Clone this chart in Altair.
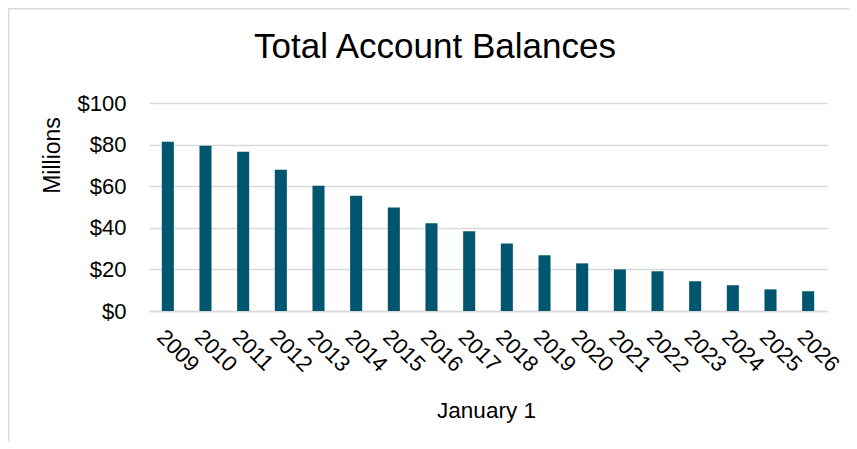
import altair as alt
import pandas as pd

years = [str(y) for y in range(2009, 2027)]
balances = [81.4, 79.5, 76.6, 67.9, 60.2, 55.4, 49.8, 42.2, 38.3,
            32.5, 26.8, 22.9, 20.0, 19.1, 14.3, 12.4, 10.4, 9.5]
y_ticks = [0, 20, 40, 60, 80, 100]
title_text = ["Total Account Balances"]

df = pd.DataFrame({"year": years, "balance": balances})

FONT = "Liberation Sans"
GRID = "#d9d9d9"
BAR = "#00566f"

W, H = 678, 208
PAD_L, PAD_T = 141, 95
PAD_R = 857 - 16 - PAD_L - W
PAD_B = 449 - 16 - PAD_T - H

bars = alt.Chart(df).mark_bar(color=BAR).encode(
    x=alt.X("year:N", sort=years,
            scale=alt.Scale(paddingInner=0.68, paddingOuter=0.34),
            axis=alt.Axis(title="January  1", labelAngle=45, labelAlign="left",
                          labelBaseline="top", labelPadding=15, ticks=False,
                          domainColor=GRID, domainWidth=1.5,
                          labelFont=FONT, labelFontSize=22, labelColor="#000",
                          titleFont=FONT, titleFontSize=22.5, titleFontWeight="normal",
                          titleColor="#000", titleY=99, titleBaseline="middle",
                          titleX=W / 2 - 2)),
    y=alt.Y("balance:Q", scale=alt.Scale(domain=[0, 100], nice=False),
            axis=alt.Axis(title="Millions", values=y_ticks, format="$.0f",
                          domain=False, ticks=False, gridColor=GRID, gridWidth=1.5,
                          labelPadding=23, labelFont=FONT, labelFontSize=22,
                          labelColor="#000",
                          titleFont=FONT, titleFontSize=23, titleFontWeight="normal",
                          titleColor="#000", titleX=-97, titleY=52,
                          titleBaseline="middle", titleAngle=-90)),
)

border = alt.Chart(pd.DataFrame({"a": [0]})).mark_rect(
    fill=None, stroke=GRID, strokeWidth=1.5
).encode(
    x=alt.value(-PAD_L + 0.75), x2=alt.value(W + PAD_R + 20),
    y=alt.value(-PAD_T + 0.75), y2=alt.value(H + PAD_B + 20),
)

title = alt.Chart(pd.DataFrame({"t": title_text})).mark_text(
    font=FONT, fontSize=35, color="#000", align="center", baseline="alphabetic"
).encode(
    text="t:N", x=alt.value(435 - 149), y=alt.value(58 - 103),
)

chart = alt.layer(border, bars, title).properties(
    width=W, height=H,
    autosize=alt.AutoSizeParams(type="none"),
    padding={"left": PAD_L, "top": PAD_T, "right": PAD_R, "bottom": PAD_B},
).configure_view(stroke=None)

chart.save("out.html", embed_options={"renderer": "svg", "actions": False})
